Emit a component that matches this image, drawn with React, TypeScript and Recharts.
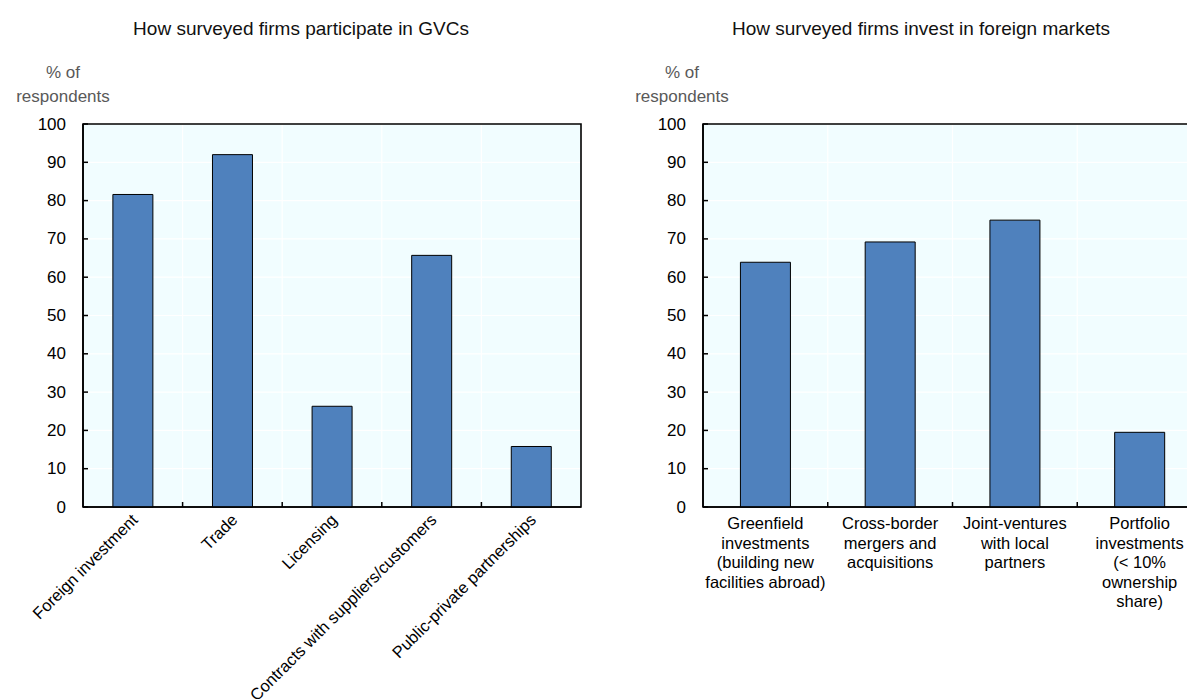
import React from "react";
import { BarChart, Bar, XAxis, YAxis, CartesianGrid, ReferenceArea } from "recharts";

const gvcCategories = [
  "Foreign investment",
  "Trade",
  "Licensing",
  "Contracts with suppliers/customers",
  "Public-private partnerships",
];
const gvcValues = [81.6, 92, 26.3, 65.7, 15.8];

const investCategories = [
  "Greenfield\ninvestments\n(building new\nfacilities abroad)",
  "Cross-border\nmergers and\nacquisitions",
  "Joint-ventures\nwith local\npartners",
  "Portfolio\ninvestments\n(< 10%\nownership\nshare)",
];
const investValues = [63.9, 69.2, 74.9, 19.5];

const yTicks = [0, 10, 20, 30, 40, 50, 60, 70, 80, 90, 100];

const gvcData = gvcCategories.map((c, i) => ({ cat: c, value: gvcValues[i] }));
const investData = investCategories.map((c, i) => ({ cat: c, value: investValues[i] }));

const FONT = "Arial, 'Liberation Sans', Helvetica, sans-serif";
const BG = "#F1FDFF";
const BAR = "#4F81BD";

const H = 691;
const LEFT_W = 600;
const LEFT_M = { top: 116, left: 74, right: 27, bottom: 191 };
const RIGHT_W = 700;
const RIGHT_M = { top: 116, left: 94, right: 106, bottom: 191 };

const YTick = (props: any) => {
  const { x, y, payload } = props;
  return (
    <g>
      <line x1={x} x2={x + 5} y1={y} y2={y} stroke="#000" strokeWidth={1.5} />
      <text x={x - 17} y={y} textAnchor="end" dominantBaseline="central" fontSize={17} fontFamily={FONT} fill="#000">
        {payload.value}
      </text>
    </g>
  );
};

const makeBoundaryTick = (band: number, n: number, kind: "rot" | "multi") => (props: any) => {
  const { x, y, payload, index } = props;
  const tick = index < n - 1 ? (
    <line x1={x + band / 2} x2={x + band / 2} y1={y} y2={y - 5} stroke="#000" strokeWidth={1.5} />
  ) : null;
  if (kind === "rot") {
    const ax = x + 6;
    const ay = y + 14;
    return (
      <g>
        {tick}
        <text x={ax} y={ay} transform={`rotate(-45 ${ax} ${ay})`} textAnchor="end" fontSize={16.5} fontFamily={FONT} fill="#000">
          {payload.value}
        </text>
      </g>
    );
  }
  const lines = String(payload.value).split("\n");
  return (
    <g>
      {tick}
      <text x={x} y={y + 22} textAnchor="middle" fontSize={16.5} fontFamily={FONT} fill="#000">
        {lines.map((l, i) => (
          <tspan key={i} x={x} dy={i === 0 ? 0 : 19.5}>
            {l}
          </tspan>
        ))}
      </text>
    </g>
  );
};

const gridGen = (n: number) => (p: any) => {
  const off = p.offset;
  const res: number[] = [];
  for (let i = 1; i < n; i++) res.push(off.left + (off.width * i) / n);
  return res;
};

function Panel({ data, width, margin, kind }: any) {
  const n = data.length;
  const band = (width - margin.left - 1 - margin.right) / n;
  return (
    <BarChart width={width} height={H} data={data} margin={margin} barCategoryGap="30%">
      <CartesianGrid
        fill={BG}
        stroke="#FFFFFF"
        strokeWidth={1.2}
        verticalCoordinatesGenerator={gridGen(n)}
      />
      <XAxis
        dataKey="cat"
        type="category"
        height={1}
        tickSize={0}
        tickMargin={0}
        tickLine={false}
        interval={0}
        axisLine={{ stroke: "#000", strokeWidth: 1.6 }}
        tick={makeBoundaryTick(band, n, kind)}
      />
      <YAxis
        type="number"
        domain={[0, 100]}
        ticks={yTicks}
        width={1}
        tickSize={0}
        tickMargin={0}
        tickLine={false}
        interval={0}
        axisLine={{ stroke: "#000", strokeWidth: 1.6 }}
        tick={YTick}
      />
      <Bar dataKey="value" fill={BAR} stroke="#000" strokeWidth={1} isAnimationActive={false} />
      <ReferenceArea y1={0} y2={100} fill="none" fillOpacity={0} stroke="#000" strokeWidth={1.6} ifOverflow="visible" />
    </BarChart>
  );
}

const titleStyle = (center: number): React.CSSProperties => ({
  position: "absolute",
  left: center - 300,
  width: 600,
  top: 9,
  textAlign: "center",
  fontSize: 19,
  lineHeight: "24px",
  color: "#111",
  fontFamily: FONT,
  whiteSpace: "nowrap",
});

const unitStyle = (center: number): React.CSSProperties => ({
  position: "absolute",
  left: center - 80,
  width: 160,
  top: 53,
  textAlign: "center",
  fontSize: 17,
  lineHeight: "24px",
  color: "#595959",
  fontFamily: FONT,
});

export default function App() {
  return (
    <div style={{ position: "fixed", left: 0, top: 0, width: 1187, height: 699, overflow: "hidden", background: "#fff", fontFamily: FONT }}>
      <div style={{ position: "absolute", left: 8, top: 8, width: 1179, height: 691 }}>
        <div style={titleStyle(293)}>How surveyed firms participate in GVCs</div>
        <div style={titleStyle(913)}>How surveyed firms invest in foreign markets</div>
        <div style={unitStyle(55)}>% of<br />respondents</div>
        <div style={unitStyle(674)}>% of<br />respondents</div>
        <div style={{ position: "absolute", left: 0, top: 0 }}>
          <Panel data={gvcData} width={LEFT_W} margin={LEFT_M} kind="rot" />
        </div>
        <div style={{ position: "absolute", left: 600, top: 0 }}>
          <Panel data={investData} width={RIGHT_W} margin={RIGHT_M} kind="multi" />
        </div>
      </div>
    </div>
  );
}
